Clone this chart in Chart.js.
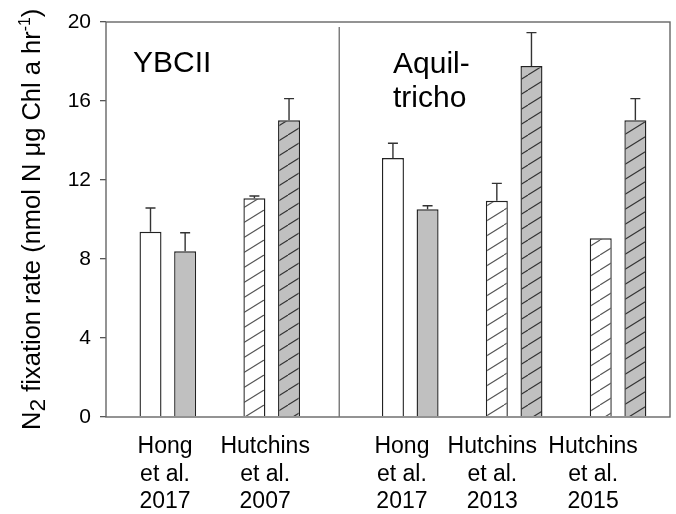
<!DOCTYPE html>
<html>
<head>
<meta charset="utf-8">
<script src="https://cdn.jsdelivr.net/npm/chart.js@4.4.0/dist/chart.umd.min.js"></script>
<style>
  html, body { margin: 0; padding: 0; background: #fff; }
  #wrap { width: 676px; height: 514px; }
</style>
</head>
<body>
<div id="wrap"><canvas id="c" width="676" height="514"></canvas></div>
<script>
// ---- data ----
const categories = [
  ["Hong", "et al.", "2017"],
  ["Hutchins", "et al.", "2007"],
  ["Hong", "et al.", "2017"],
  ["Hutchins", "et al.", "2013"],
  ["Hutchins", "et al.", "2015"]
];
const hatched = [false, true, false, true, true];
const whiteValues = [9.38, 11.07, 13.11, 10.95, 9.05];
const whiteErrors = [1.20, 0.12, 0.75, 0.88, 0];
const grayValues = [8.39, 15.02, 10.52, 17.77, 15.02];
const grayErrors = [0.94, 1.10, 0.18, 1.69, 1.10];
const yTicks = [0, 4, 8, 12, 16, 20];
const panelLabels = [["YBCII"], ["Aquil-", "tricho"]];

// ---- layout helpers ----
function slotOf(g, s) { return 3 * g + s + (g >= 2 ? 1 : 0); }
const labelNudge = [-0.08, -0.19, -0.24, -0.63, -0.72];
const labelPos = categories.map((c, g) => slotOf(g, 0) + 0.5 + labelNudge[g]);
const dividerSlot = 5.45;

function makeHatch(bg, lineColor) {
  const w = 24, h = 15;
  const cv = document.createElement('canvas');
  cv.width = w; cv.height = h;
  const x = cv.getContext('2d');
  x.fillStyle = bg; x.fillRect(0, 0, w, h);
  x.strokeStyle = lineColor; x.lineWidth = 1.1;
  for (let k = -1; k <= 1; k++) {
    x.beginPath();
    x.moveTo(0 + k * w, h);
    x.lineTo(w + k * w, 0);
    x.stroke();
  }
  return x.createPattern(cv, 'repeat');
}
const ctx0 = document.getElementById('c').getContext('2d');
const whiteHatch = makeHatch('#ffffff', '#555555');
const grayHatch = makeHatch('#c0c0c0', '#333333');

const FONT = "'Liberation Sans', Arial, Helvetica, sans-serif";

const errorBars = {
  id: 'errorBars',
  afterDatasetsDraw(chart) {
    const ctx = chart.ctx, ys = chart.scales.y;
    const errs = [whiteErrors, grayErrors];
    const vals = [whiteValues, grayValues];
    ctx.save();
    ctx.strokeStyle = '#333'; ctx.lineWidth = 1.4;
    chart.data.datasets.forEach((ds, di) => {
      const meta = chart.getDatasetMeta(di);
      meta.data.forEach((el, i) => {
        const e = errs[di][i];
        if (!e) return;
        const yt = ys.getPixelForValue(vals[di][i] + e);
        ctx.beginPath();
        ctx.moveTo(el.x, el.y); ctx.lineTo(el.x, yt);
        ctx.moveTo(el.x - 5, yt); ctx.lineTo(el.x + 5, yt);
        ctx.stroke();
      });
    });
    ctx.restore();
  }
};

const frame = {
  id: 'frame',
  afterDraw(chart) {
    const ctx = chart.ctx, a = chart.chartArea, xs = chart.scales.x;
    ctx.save();
    ctx.strokeStyle = '#666'; ctx.lineWidth = 1.4;
    ctx.strokeRect(a.left, a.top, a.right - a.left, a.bottom - a.top);
    const dx = xs.getPixelForValue(dividerSlot);
    ctx.strokeStyle = '#777';
    ctx.beginPath(); ctx.moveTo(dx, a.top + 5); ctx.lineTo(dx, a.bottom); ctx.stroke();

    // panel labels
    ctx.fillStyle = '#000';
    ctx.font = "30px " + FONT;
    ctx.textBaseline = 'alphabetic'; ctx.textAlign = 'left';
    ctx.fillText(panelLabels[0][0], a.left + 27, a.top + 50);
    ctx.fillText(panelLabels[1][0], a.left + 287, a.top + 51);
    ctx.fillText(panelLabels[1][1], a.left + 287, a.top + 85);

    // y axis title with sub/superscripts
    const fs = 25.5;
    const parts = [
      { t: "N", s: 1, dy: 0 },
      { t: "2", s: 0.9, dy: 5 },
      { t: " fixation rate (nmol N \u03bcg Chl a hr", s: 1, dy: 0 },
      { t: "-1", s: 0.62, dy: -10 },
      { t: ")", s: 1, dy: 0 }
    ];
    ctx.translate(40, 430);
    ctx.rotate(-Math.PI / 2);
    let xpos = 0;
    parts.forEach(p => {
      ctx.font = (fs * p.s).toFixed(1) + "px " + FONT;
      ctx.fillText(p.t, xpos, p.dy);
      xpos += ctx.measureText(p.t).width;
    });
    ctx.restore();
  }
};

new Chart(ctx0, {
  type: 'bar',
  data: {
    datasets: [
      {
        label: 'white',
        data: whiteValues.map((v, g) => ({ x: slotOf(g, 0), y: v })),
        backgroundColor: hatched.map(h => h ? whiteHatch : '#ffffff'),
        borderColor: '#222', borderWidth: 1.4
      },
      {
        label: 'gray',
        data: grayValues.map((v, g) => ({ x: slotOf(g, 1), y: v })),
        backgroundColor: hatched.map(h => h ? grayHatch : '#c0c0c0'),
        borderColor: '#222', borderWidth: 1.4
      }
    ]
  },
  options: {
    responsive: false,
    animation: false,
    grouped: false,
    categoryPercentage: 1,
    barPercentage: 0.635,
    layout: { padding: { top: 22, right: 6, left: 0, bottom: 0 } },
    plugins: { legend: { display: false }, tooltip: { enabled: false } },
    scales: {
      x: {
        type: 'linear',
        offset: false,
        min: -1.285, max: 15.0,
        grid: { display: false, offset: false },
        border: { display: false },
        afterBuildTicks(axis) { axis.ticks = labelPos.map(v => ({ value: v })); },
        afterFit(axis) { axis.height = 97; },
        ticks: {
          autoSkip: false, maxRotation: 0, minRotation: 0,
          color: '#000', padding: 8,
          font: { family: FONT, size: 23, lineHeight: 1.2 },
          callback(value, index) { return categories[index]; }
        }
      },
      y: {
        min: 0, max: 20,
        afterBuildTicks(axis) { axis.ticks = yTicks.map(v => ({ value: v })); },
        afterFit(axis) { axis.width = 106; },
        grid: { drawOnChartArea: false, drawTicks: true, tickLength: 6, color: '#555', lineWidth: 1.3 },
        border: { display: false },
        ticks: { color: '#000', padding: 9, font: { family: FONT, size: 21 } }
      }
    }
  },
  plugins: [errorBars, frame]
});
</script>
</body>
</html>
